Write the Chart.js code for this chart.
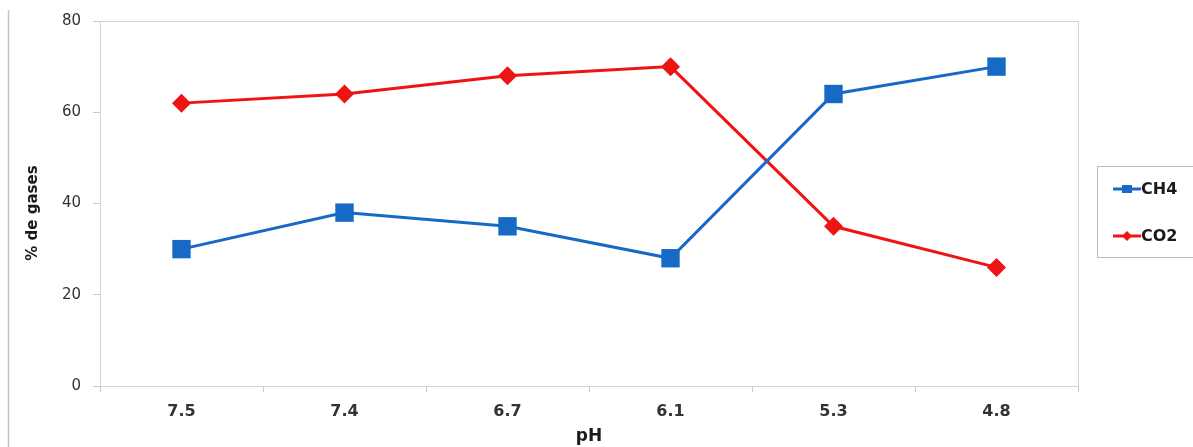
<!DOCTYPE html>
<html>
<head>
<meta charset="utf-8">
<title>% de gases vs pH</title>
<script src="https://cdn.jsdelivr.net/npm/chart.js@4/dist/chart.umd.min.js"></script>
<style>
  html, body { margin: 0; padding: 0; background: #ffffff; }
  #wrap { width: 1193px; height: 447px; position: relative; }
</style>
</head>
<body>
<div id="wrap"><canvas id="c" width="1193" height="447"></canvas></div>
<script>
// pH levels along the x axis
const categories = ['7.5', '7.4', '6.7', '6.1', '5.3', '4.8'];
// gas composition (%) at each pH
const ch4Values = [30, 38, 35, 28, 64, 70];
const co2Values = [62, 64, 68, 70, 35, 26];
// y axis ticks
const yTicks = [0, 20, 40, 60, 80];
const yTitle = '% de gases';

const BLUE = '#1669c4';
const RED = '#ee1414';
const FONT = 'DejaVu Sans, Verdana, sans-serif';

// Frame line at the left, plot-area box, y title and the legend panel on the right
const decorations = {
  id: 'decorations',
  beforeDatasetsDraw(chart) {
    const {ctx, chartArea: a} = chart;
    ctx.save();
    ctx.strokeStyle = '#d4d4d4';
    ctx.lineWidth = 1;
    ctx.strokeRect(Math.round(a.left) + 0.5, Math.round(a.top) + 0.5,
                   Math.round(a.right - a.left), Math.round(a.bottom - a.top));
    ctx.restore();
  },
  afterDraw(chart) {
    const {ctx} = chart;
    ctx.save();
    // outer frame edge
    ctx.strokeStyle = '#c4c4c4';
    ctx.lineWidth = 1.5;
    ctx.beginPath();
    ctx.moveTo(8.5, 10);
    ctx.lineTo(8.5, 447);
    ctx.stroke();

    // y axis title
    ctx.save();
    ctx.translate(33, 213);
    ctx.rotate(-Math.PI / 2);
    ctx.fillStyle = '#1a1a1a';
    ctx.font = 'bold 15px ' + FONT;
    ctx.textAlign = 'center';
    ctx.textBaseline = 'middle';
    ctx.fillText(yTitle, 0, 0);
    ctx.restore();

    // legend box
    const bx = 1097, by = 166, bh = 91;
    ctx.strokeStyle = '#bdbdbd';
    ctx.lineWidth = 1;
    ctx.strokeRect(bx + 0.5, by + 0.5, 200, bh);

    const rows = [189, 236];
    chart.data.datasets.forEach((ds, i) => {
      const y = rows[i];
      ctx.strokeStyle = ds.borderColor;
      ctx.lineWidth = 3;
      ctx.beginPath();
      ctx.moveTo(1113, y);
      ctx.lineTo(1141, y);
      ctx.stroke();
      ctx.fillStyle = ds.backgroundColor;
      ctx.beginPath();
      if (ds.pointStyle === 'rect') {
        ctx.rect(1122, y - 4, 10, 8);
      } else {
        ctx.moveTo(1127, y - 5);
        ctx.lineTo(1132, y);
        ctx.lineTo(1127, y + 5);
        ctx.lineTo(1122, y);
        ctx.closePath();
      }
      ctx.fill();
      ctx.fillStyle = '#1a1a1a';
      ctx.font = 'bold 16px ' + FONT;
      ctx.textBaseline = 'middle';
      ctx.textAlign = 'left';
      ctx.fillText(ds.label, 1141, y + 1);
    });
    ctx.restore();
  }
};

new Chart(document.getElementById('c'), {
  type: 'line',
  data: {
    labels: categories,
    datasets: [
      {
        label: 'CH4',
        data: ch4Values,
        borderColor: BLUE,
        backgroundColor: BLUE,
        borderWidth: 3,
        pointStyle: 'rect',
        pointRadius: 13,
        pointBorderWidth: 0,
        tension: 0
      },
      {
        label: 'CO2',
        data: co2Values,
        borderColor: RED,
        backgroundColor: RED,
        borderWidth: 3,
        pointStyle: 'rectRot',
        pointRadius: 9.5,
        pointBorderWidth: 0,
        tension: 0
      }
    ]
  },
  options: {
    responsive: false,
    animation: false,
    layout: { padding: { top: 21, right: 115, bottom: 0, left: 0 } },
    plugins: {
      legend: { display: false },
      tooltip: { enabled: false }
    },
    scales: {
      x: {
        type: 'category',
        offset: true,
        border: { display: false },
        grid: {
          offset: true,
          drawOnChartArea: false,
          drawTicks: true,
          tickLength: 6,
          color: '#c8c8c8'
        },
        ticks: {
          color: '#333333',
          font: { family: FONT, size: 16, weight: 'bold' },
          padding: 10,
          maxRotation: 0
        },
        title: {
          display: true,
          text: 'pH',
          color: '#1a1a1a',
          font: { family: FONT, size: 17, weight: 'bold' },
          padding: { top: 0, bottom: 0 }
        },
        afterFit(scale) { scale.height = 61; }
      },
      y: {
        min: 0,
        max: 80,
        border: { display: false },
        grid: {
          drawOnChartArea: false,
          drawTicks: true,
          tickLength: 7,
          color: '#c8c8c8'
        },
        afterBuildTicks(scale) {
          scale.ticks = yTicks.map(v => ({ value: v }));
        },
        ticks: {
          color: '#333333',
          font: { family: FONT, size: 15 },
          padding: 12
        },
        title: { display: false },
        afterFit(scale) { scale.width = 100; }
      }
    }
  },
  plugins: [decorations]
});
</script>
</body>
</html>
